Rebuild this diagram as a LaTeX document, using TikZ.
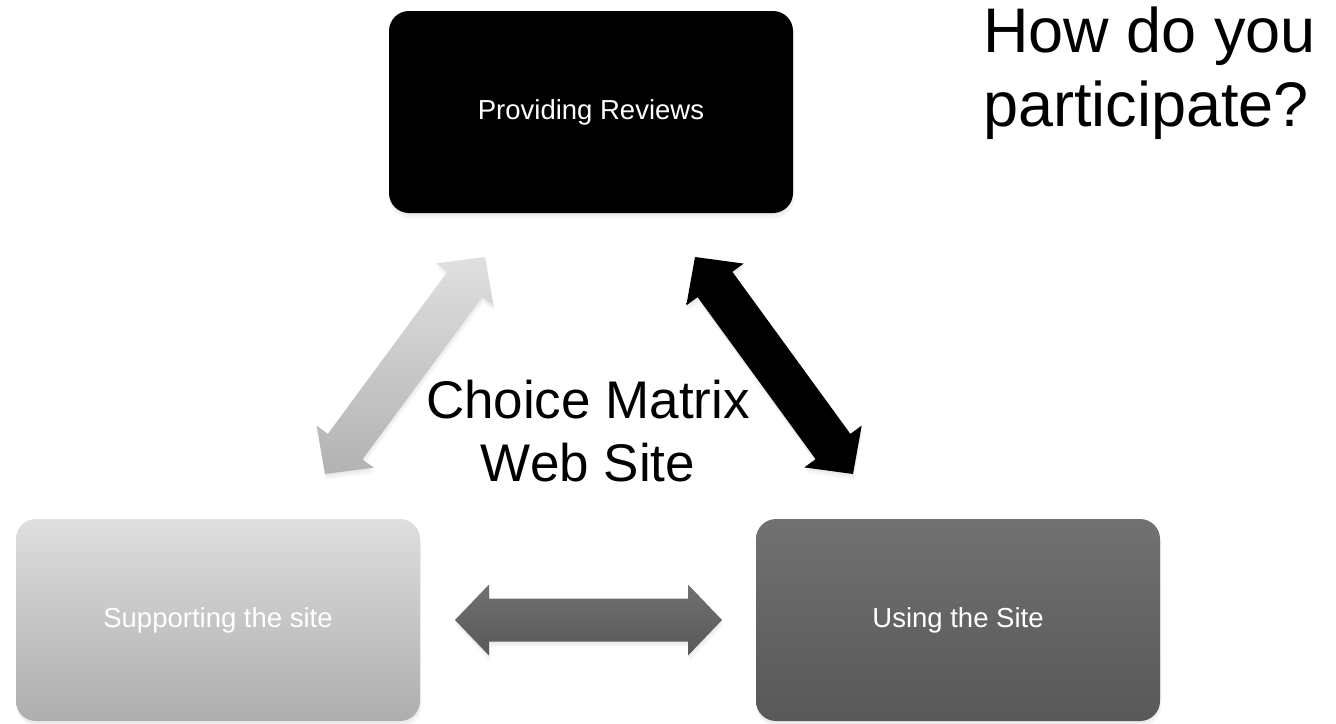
\documentclass[tikz,border=0pt]{standalone}
\usepackage{fontspec}
\setmainfont{Liberation Sans}
\usetikzlibrary{calc,shadows}

\definecolor{paleTop}{HTML}{DEDEDE}
\definecolor{paleBot}{HTML}{AEAEAE}
\definecolor{darkTop}{HTML}{717171}
\definecolor{darkBot}{HTML}{585858}

% fat two-headed arrow between two named points
\newcommand{\twoway}[3]{%
  \shade[#1] (#2)
    -- ($(#2)!34pt!(#3)!35.5pt!90:(#3)$) -- ($(#2)!34pt!(#3)!21.5pt!90:(#3)$)
    -- ($(#3)!34pt!(#2)!21.5pt!-90:(#2)$) -- ($(#3)!34pt!(#2)!35.5pt!-90:(#2)$)
    -- (#3)
    -- ($(#3)!34pt!(#2)!35.5pt!90:(#2)$) -- ($(#3)!34pt!(#2)!21.5pt!90:(#2)$)
    -- ($(#2)!34pt!(#3)!21.5pt!-90:(#3)$) -- ($(#2)!34pt!(#3)!35.5pt!-90:(#3)$)
    -- cycle;}

\begin{document}
\begin{tikzpicture}[x=1pt, y=-1pt,
  softshadow/.style={drop shadow={opacity=0.06, shadow xshift=0pt, shadow yshift=-2pt},
                     drop shadow={opacity=0.06, shadow xshift=1pt, shadow yshift=-4pt},
                     drop shadow={opacity=0.05, shadow xshift=1pt, shadow yshift=-6pt}},
  box/.style={rounded corners=20pt, minimum width=404pt, minimum height=202pt,
              text=white, font=\fontsize{27.5}{32}\selectfont, softshadow},
  bigtext/.style 2 args={font=\fontsize{#1}{#2}\selectfont, inner sep=0pt}]

\useasboundingbox (0,0) rectangle (1336,723);

\node[box, fill=black] (reviews) at (591,112) {Providing Reviews};
\node[box, top color=paleTop, bottom color=paleBot] (support) at (218,620) {Supporting the site};
\node[box, top color=darkTop, bottom color=darkBot] (using) at (958,620) {Using the Site};

\coordinate (revL) at (485,257);
\coordinate (supT) at (325,474);
\coordinate (revR) at (695,257);
\coordinate (useT) at (853,474);
\coordinate (supR) at (455,620);
\coordinate (useL) at (722,620);

\twoway{top color=paleTop!95!white, bottom color=paleBot!95!white, softshadow}{revL}{supT}
\twoway{top color=black, bottom color=black, softshadow}{revR}{useT}
\twoway{top color=darkTop, bottom color=darkBot, softshadow}{supR}{useL}

\node[bigtext={53}{63}, align=center] (site) at (588,431) {Choice Matrix\\Web Site};

\node[bigtext={63}{74}, align=left, anchor=north west] (question) at (983,7) {How do you\\participate?};

\end{tikzpicture}
\end{document}
